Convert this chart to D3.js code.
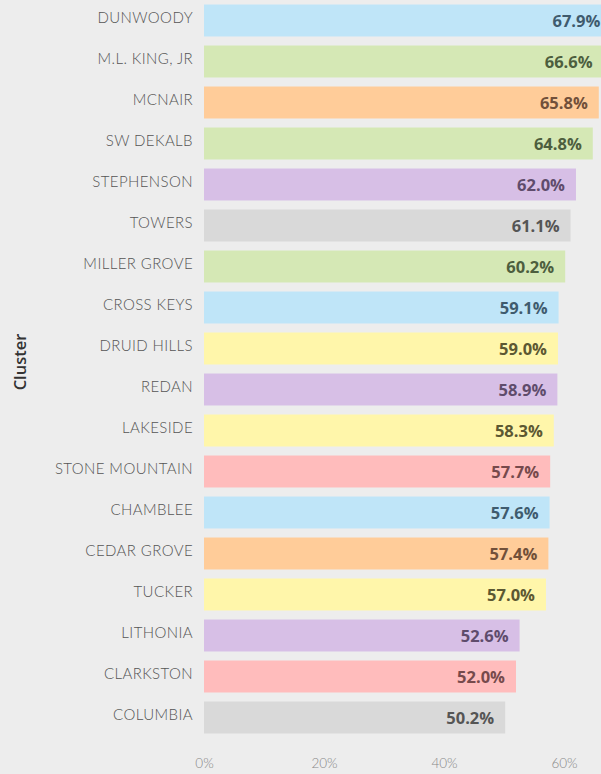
<!DOCTYPE html>
<html>
<head>
<meta charset="utf-8">
<script src="https://cdn.jsdelivr.net/npm/d3@7"></script>
<style>
  html, body { margin: 0; padding: 0; background: #ededed; overflow: hidden; }
</style>
</head>
<body>
<div id="chart"></div>
<script>
const W = 601, H = 774;
const MARGIN = { LEFT: 204, RIGHT: 0, TOP: 0, BOTTOM: 40 };

// data
const clusters = ["DUNWOODY", "M.L. KING, JR", "MCNAIR", "SW DEKALB", "STEPHENSON", "TOWERS",
  "MILLER GROVE", "CROSS KEYS", "DRUID HILLS", "REDAN", "LAKESIDE", "STONE MOUNTAIN",
  "CHAMBLEE", "CEDAR GROVE", "TUCKER", "LITHONIA", "CLARKSTON", "COLUMBIA"];
const values = [67.9, 66.6, 65.8, 64.8, 62.0, 61.1, 60.2, 59.1, 59.0, 58.9, 58.3, 57.7, 57.6, 57.4, 57.0, 52.6, 52.0, 50.2];
const groups = ["blue", "green", "orange", "green", "purple", "gray", "green", "blue", "yellow", "purple",
  "yellow", "pink", "blue", "orange", "yellow", "purple", "pink", "gray"];
const xTicks = [0, 20, 40, 60];

const groupNames = ["blue", "green", "orange", "purple", "gray", "yellow", "pink"];
const fillColor = d3.scaleOrdinal().domain(groupNames)
  .range(["#bfe5f8", "#d5e8b5", "#ffcc99", "#d7bfe6", "#d9d9d9", "#fff6aa", "#ffbcbc"]);
const textColor = d3.scaleOrdinal().domain(groupNames)
  .range(["#3f5b6e", "#4d5e3e", "#71503a", "#5f4c6c", "#555555", "#5c5832", "#764a4c"]);

const data = clusters.map((c, i) => ({ cluster: c, value: values[i], group: groups[i] }));

const svg = d3.select("#chart").append("svg")
  .attr("width", W)
  .attr("height", H);

svg.append("rect").attr("width", W).attr("height", H).attr("fill", "#ededed");

// about 6px per percent, 0 at x=204
const x = d3.scaleLinear().domain([0, 66.17]).range([MARGIN.LEFT, W]);

const y = d3.scaleBand()
  .domain(clusters)
  .range([MARGIN.TOP, MARGIN.TOP + 41 * clusters.length])
  .paddingInner(0.22)
  .paddingOuter(0.11);

const bars = svg.append("g").attr("class", "bars");

bars.selectAll("rect")
  .data(data)
  .enter()
  .append("rect")
  .attr("x", x(0))
  .attr("y", d => y(d.cluster))
  .attr("width", d => x(d.value) - x(0))
  .attr("height", y.bandwidth())
  .attr("fill", d => fillColor(d.group));

// value labels inside bar end
bars.selectAll(".val")
  .data(data)
  .enter()
  .append("text")
  .attr("class", "val")
  .attr("x", d => x(d.value) - 11)
  .attr("y", d => y(d.cluster) + y.bandwidth() / 2 + 2)
  .attr("text-anchor", "end")
  .attr("dominant-baseline", "middle")
  .style("font-family", "'Open Sans', sans-serif")
  .style("font-weight", 700)
  .style("font-size", "16.5px")
  .style("fill", d => textColor(d.group))
  .text(d => d.value.toFixed(1) + "%");

// category axis
const yAxis = svg.append("g")
  .attr("transform", `translate(${MARGIN.LEFT - 11}, 0)`)
  .call(d3.axisLeft(y).tickSize(0).tickPadding(0));
yAxis.select(".domain").remove();
yAxis.selectAll("text")
  .attr("y", -2)
  .style("font-family", "Lato, 'Open Sans', sans-serif")
  .style("font-weight", 300)
  .style("font-size", "15px")
  .style("letter-spacing", "0.4px")
  .style("fill", "#555");

// value axis
const xAxis = svg.append("g")
  .attr("transform", `translate(0, ${H - 11})`)
  .call(d3.axisBottom(x).tickValues(xTicks).tickFormat(d => d + "%").tickSize(0).tickPadding(0));
xAxis.select(".domain").remove();
xAxis.selectAll("text")
  .attr("dy", "0.35em")
  .style("font-family", "Lato, 'Open Sans', sans-serif")
  .style("font-weight", 300)
  .style("font-size", "13.5px")
  .style("fill", "#888");

// axis title
svg.append("text")
  .attr("transform", "translate(22, 362) rotate(-90)")
  .attr("text-anchor", "middle")
  .attr("dominant-baseline", "middle")
  .style("font-family", "'Open Sans', sans-serif")
  .style("font-weight", 600)
  .style("font-size", "16.5px")
  .style("fill", "#333")
  .text("Cluster");
</script>
</body>
</html>
